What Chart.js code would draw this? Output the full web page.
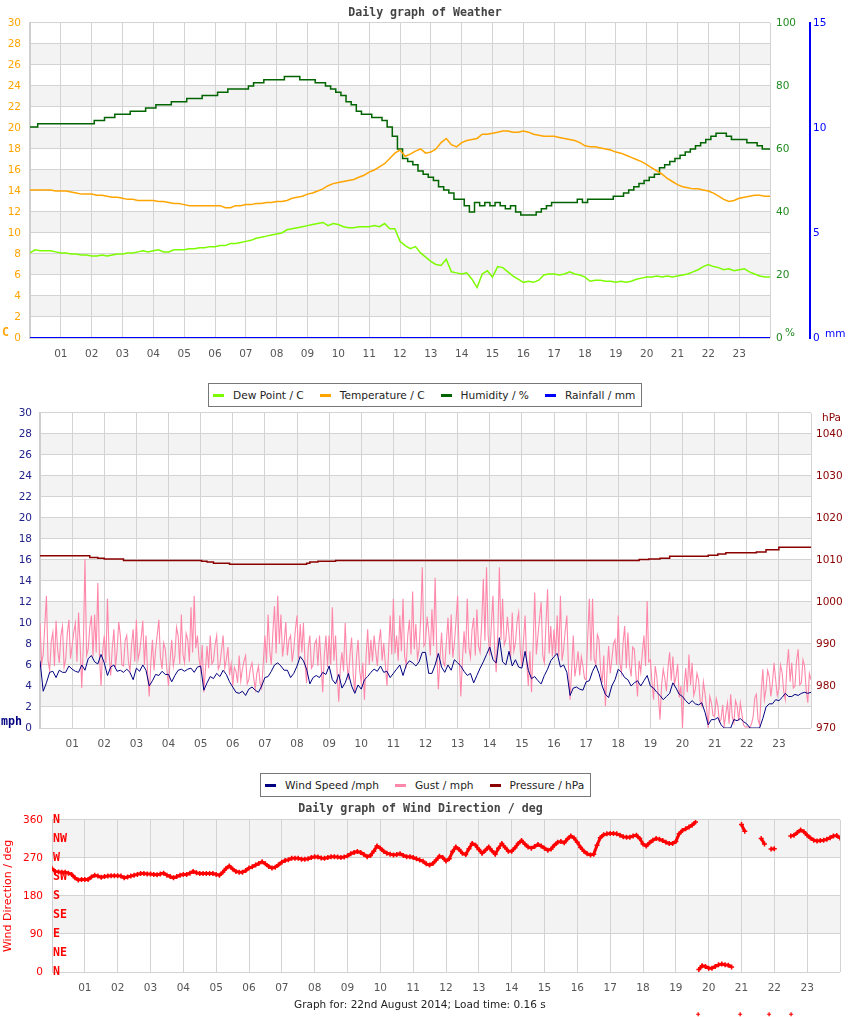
<!DOCTYPE html>
<html>
<head>
<meta charset="utf-8">
<title>Daily graph of Weather</title>
<script src="https://cdn.jsdelivr.net/npm/chart.js@4.4.1/dist/chart.umd.min.js"></script>
<style>
  html, body { margin: 0; padding: 0; background: #fff; }
  body { width: 850px; height: 1017px; position: relative; overflow: hidden; font-family: 'DejaVu Sans', sans-serif; }
  canvas { position: absolute; left: 0; }
  .legend { position: absolute; z-index: 2; background: #fff; border: 1px solid #777; height: 22px;
            padding: 0 6px 0 4px; display: flex; align-items: center; font-size: 10.6px; color: #222; white-space: nowrap; }
  .legend .item { display: flex; align-items: center; margin-right: 16px; }
  .legend .item:last-child { margin-right: 0; }
  .legend .sw { display: inline-block; width: 11px; height: 3px; margin-right: 9px; }
  .footer { position: absolute; left: 294px; top: 997px; font-size: 10.5px; color: #222; line-height: 14px; }
</style>
</head>
<body>
<canvas id="weatherChart" width="850" height="375" style="top:0"></canvas>
<canvas id="windChart" width="850" height="379" style="top:386px"></canvas>
<canvas id="dirChart" width="850" height="221" style="top:796px"></canvas>

<div class="legend" style="left:208px; top:383px">
  <span class="item"><span class="sw" style="background:#7cfc00"></span>Dew Point / C</span>
  <span class="item"><span class="sw" style="background:#ffa500"></span>Temperature / C</span>
  <span class="item"><span class="sw" style="background:#006400"></span>Humidity / %</span>
  <span class="item"><span class="sw" style="background:#0000ff"></span>Rainfall / mm</span>
</div>
<div class="legend" style="left:260px; top:773px">
  <span class="item"><span class="sw" style="background:#000080"></span>Wind Speed /mph</span>
  <span class="item"><span class="sw" style="background:#ff88aa"></span>Gust / mph</span>
  <span class="item"><span class="sw" style="background:#8b0000"></span>Pressure / hPa</span>
</div>
<div class="footer">Graph for: 22nd August 2014; Load time: 0.16 s</div>

<script>
// ---- data ----
const HOUR_LABELS = ['', '01', '02', '03', '04', '05', '06', '07', '08', '09', '10', '11', '12',
  '13', '14', '15', '16', '17', '18', '19', '20', '21', '22', '23', ''];
const COMPASS = ['N', 'NE', 'E', 'SE', 'S', 'SW', 'W', 'NW', 'N'];

// top graph: one sample every 10 minutes, 00:00 .. 24:00
const WEATHER_PER_HOUR = 6;
const TEMP_C = [
  14.1,14.1,14.1,14.1,14.1,14.0,14.0,14.0,13.9,13.8,13.7,13.7,
  13.7,13.6,13.6,13.5,13.4,13.4,13.3,13.2,13.2,13.1,13.1,13.1,
  13.1,13.0,13.0,12.9,12.8,12.8,12.7,12.6,12.6,12.6,12.6,12.6,
  12.6,12.6,12.4,12.4,12.6,12.6,12.7,12.7,12.8,12.8,12.9,12.9,
  13.0,13.0,13.1,13.3,13.4,13.5,13.7,13.8,14.0,14.2,14.5,14.7,
  14.8,14.9,15.0,15.1,15.3,15.5,15.8,16.0,16.3,16.6,17.1,17.6,
  17.9,17.3,17.5,17.8,18.0,17.6,17.7,18.0,18.6,19.0,18.4,18.2,
  18.6,18.8,18.9,19.0,19.4,19.4,19.5,19.6,19.7,19.7,19.6,19.6,
  19.7,19.6,19.4,19.3,19.2,19.2,19.2,19.1,19.0,18.9,18.8,18.6,
  18.3,18.2,18.2,18.1,18.0,17.9,17.7,17.6,17.4,17.2,17.0,16.8,
  16.5,16.2,15.9,15.6,15.2,14.9,14.6,14.4,14.3,14.2,14.2,14.1,
  14.0,13.8,13.5,13.2,13.0,13.1,13.3,13.4,13.5,13.6,13.6,13.5,
  13.5
];
const DEW_C = [
  8.1,8.4,8.3,8.3,8.3,8.2,8.1,8.1,8.0,8.0,7.9,7.9,
  7.8,7.8,7.9,7.8,7.9,8.0,8.0,8.1,8.1,8.2,8.3,8.2,
  8.3,8.4,8.2,8.2,8.4,8.4,8.4,8.5,8.5,8.6,8.6,8.7,
  8.7,8.8,8.8,9.0,9.0,9.1,9.2,9.3,9.5,9.6,9.7,9.8,
  9.9,10.0,10.3,10.4,10.5,10.6,10.7,10.8,10.9,11.0,10.7,10.9,
  10.8,10.6,10.5,10.5,10.6,10.6,10.6,10.7,10.6,10.9,10.4,10.4,
  9.2,8.8,8.5,8.7,8.1,7.7,7.3,7.0,6.9,7.5,6.3,6.2,
  6.1,6.2,5.6,4.8,6.1,6.4,5.8,6.8,6.7,6.3,5.9,5.6,
  5.3,5.4,5.3,5.5,6.0,6.1,6.1,6.0,6.1,6.3,6.1,6.0,
  5.8,5.4,5.5,5.5,5.4,5.4,5.3,5.4,5.3,5.4,5.6,5.7,
  5.8,5.8,5.9,5.8,5.9,5.8,5.9,6.0,6.1,6.3,6.5,6.8,
  7.0,6.8,6.7,6.5,6.6,6.4,6.5,6.6,6.3,6.1,5.9,5.8,
  5.8
];
const HUMIDITY = [
  67,67,68,68,68,68,68,68,68,68,68,68,68,
  69,69,70,70,71,71,71,72,72,72,73,73,
  74,74,74,75,75,75,76,76,76,77,77,77,
  78,78,79,79,79,79,80,81,81,82,82,82,
  82,83,83,83,82,82,82,81,81,80,79,78,
  77,75,74,72,71,71,70,70,69,67,64,60,
  57,56,55,53,52,51,50,48,47,46,44,44,
  42,40,43,42,43,42,43,42,41,42,40,39,
  39,39,40,41,42,43,43,43,43,43,44,43,
  44,44,44,44,44,45,45,46,47,48,49,50,
  51,52,54,55,56,57,58,59,60,61,62,63,
  64,65,65,64,63,63,63,62,62,61,60,60
];
const RAIN_HOURS = [0, 24];
const RAIN_MM = [0, 0];

// middle graph: wind every 6 minutes, gusts every 3 minutes
const WIND_PER_HOUR = 10;
const WIND_MPH = [
  6.4,3.5,4.3,5.3,5.4,4.8,5.5,5.3,5.3,5.9,
  5.6,5.4,5.3,6.0,5.5,6.6,6.9,6.3,6.1,7.0,
  6.2,5.0,5.8,6.0,5.4,5.5,5.3,5.6,5.3,4.6,
  5.7,5.4,6.0,5.5,4.0,4.5,5.1,5.0,5.4,5.1,
  5.1,4.4,5.0,5.5,5.6,5.4,5.6,5.7,5.3,5.8,
  5.9,3.6,4.3,4.9,4.7,5.2,4.9,5.5,5.1,4.4,
  3.9,3.4,3.3,3.5,3.1,3.7,3.9,3.6,3.4,4.0,
  4.8,4.9,5.4,6.0,6.2,5.9,5.5,5.5,4.8,5.2,
  5.9,6.8,6.4,5.6,4.2,4.8,5.0,4.8,5.3,5.1,
  5.9,4.6,4.2,5.1,3.8,4.3,5.2,4.0,3.3,4.1,
  3.7,4.6,4.9,5.3,5.6,5.4,5.9,5.3,5.4,4.8,
  5.2,5.6,6.0,5.0,6.0,6.4,6.2,5.9,6.3,7.2,
  7.2,5.2,5.2,6.0,7.1,5.8,5.3,6.0,5.5,6.5,
  6.2,5.9,5.4,5.0,5.2,4.3,5.0,5.7,6.3,7.0,
  7.7,6.5,6.2,8.6,6.3,6.0,7.3,5.9,6.5,5.8,
  5.7,7.3,5.5,4.7,4.9,4.5,4.2,5.0,5.6,6.4,
  6.8,7.1,5.8,6.0,5.3,3.1,3.8,3.9,3.7,3.6,
  4.4,4.5,5.4,6.0,5.2,4.0,3.2,2.9,4.0,4.6,
  5.6,5.3,4.8,4.6,4.0,4.3,4.5,4.0,4.5,5.0,
  4.0,3.8,3.4,3.1,2.7,3.0,3.3,4.3,3.8,3.2,
  3.0,2.6,2.3,2.6,2.3,2.2,2.4,1.5,0.3,0.8,
  0.8,1.0,0.3,0.0,0.0,0.0,0.8,0.7,0.9,0.6,
  0.4,0.0,0.0,0.0,0.0,0.9,2.0,2.3,2.3,2.7,
  2.6,2.9,3.3,3.0,3.0,3.2,3.1,3.3,3.4,3.3,
  3.4
];
const GUST_PER_HOUR = 20;
const GUST_MPH = [
  10.0,6.1,7.0,9.8,12.6,6.4,5.5,8.2,9.1,5.9,10.2,7.4,6.2,8.8,9.7,5.8,6.5,9.0,10.3,6.6,
  7.8,9.1,10.0,6.3,11.0,7.9,3.8,8.0,16.1,6.9,7.5,9.6,10.7,6.8,10.8,7.2,13.8,7.0,4.0,7.3,
  8.8,6.2,12.3,7.1,5.0,7.6,9.4,5.8,7.4,10.1,8.8,6.0,5.9,8.3,8.8,6.4,5.4,7.9,9.4,6.3,
  10.3,6.5,7.2,8.6,10.2,6.0,8.8,5.2,3.0,6.2,8.4,5.5,7.5,8.9,10.3,6.7,5.6,8.1,7.5,5.6,
  4.0,6.4,8.4,5.9,6.9,9.6,8.8,6.1,10.8,7.0,6.2,9.0,8.4,6.3,11.5,7.2,12.6,7.6,8.8,6.6,
  5.6,7.9,3.4,5.6,7.8,5.7,8.8,6.1,6.4,7.9,8.8,5.6,6.0,7.4,8.8,5.7,6.5,7.7,5.0,6.1,
  4.0,5.8,5.4,4.3,6.9,4.5,5.6,6.4,6.9,4.2,4.6,5.7,6.2,4.8,3.7,5.2,5.9,4.3,3.8,6.2,
  8.8,6.2,10.8,7.4,6.0,9.2,11.6,7.1,12.6,8.0,10.8,6.8,8.1,10.1,6.9,8.4,8.8,6.3,7.5,9.4,
  10.7,6.6,9.9,7.2,10.0,6.1,4.3,7.6,8.8,5.7,6.0,8.0,8.4,5.9,8.8,6.2,3.4,6.9,8.8,5.8,
  8.8,6.0,11.5,6.4,8.8,5.2,2.5,5.8,7.2,5.4,10.0,6.3,4.6,7.0,8.6,5.1,3.4,6.6,8.4,5.5,
  4.3,6.2,2.7,6.8,9.4,6.0,8.4,6.3,8.8,7.3,5.9,8.1,9.4,6.4,8.1,6.1,4.0,7.2,10.7,7.0,
  12.3,7.1,8.8,6.4,10.7,7.3,12.3,6.8,6.0,8.9,10.3,7.0,13.0,7.5,9.9,6.6,7.5,10.4,15.3,7.8,
  8.1,10.6,9.2,6.9,11.3,7.8,14.3,7.4,3.7,6.6,9.1,6.3,5.9,8.2,10.5,7.0,10.8,6.7,8.1,10.2,
  12.6,6.8,3.0,6.5,9.2,7.1,12.3,7.7,6.7,9.4,10.5,6.9,11.3,7.8,7.2,10.0,14.2,8.3,15.3,8.8,
  6.9,9.8,12.6,7.6,5.3,8.9,15.3,8.4,12.3,7.9,8.4,10.6,8.8,6.7,11.0,7.3,8.1,10.1,11.0,7.4,
  5.9,8.3,10.7,6.2,4.0,7.3,3.4,7.8,12.9,7.0,8.8,10.4,12.0,6.9,6.2,9.9,13.2,7.1,9.7,6.8,
  9.4,7.0,10.7,6.8,12.6,6.4,7.5,9.3,10.7,5.8,2.7,5.6,8.8,4.9,6.0,7.3,5.0,6.8,5.9,4.7,
  4.6,8.6,12.3,6.4,12.3,6.6,6.0,8.9,8.4,5.5,4.3,6.9,2.1,5.3,7.8,5.2,6.5,8.0,8.4,6.0,
  10.7,6.2,5.3,8.1,9.7,5.7,9.1,6.0,4.9,7.7,7.5,5.1,3.0,6.4,5.3,7.2,8.8,5.9,12.1,6.3,
  6.5,4.4,2.7,5.9,4.9,3.0,0.8,4.1,5.6,4.7,3.5,5.8,7.2,4.5,6.8,4.2,4.9,6.1,2.9,4.0,
  0.0,3.9,5.7,3.4,7.0,4.1,6.2,3.1,3.7,5.2,4.6,2.6,2.1,4.4,3.3,1.9,0.0,3.0,2.4,1.2,
  1.1,2.8,2.1,0.6,0.8,2.2,0.2,1.4,2.4,0.4,3.2,1.0,0.5,2.6,2.1,0.7,2.4,1.3,0.3,0.1,
  0.1,0.1,0.1,0.4,1.1,2.9,3.2,0.8,0.3,3.4,5.6,2.7,3.7,5.5,4.9,3.0,4.3,6.2,4.6,3.1,
  3.7,6.0,5.3,3.5,2.7,5.8,7.5,4.4,6.2,3.8,4.0,6.4,7.5,4.1,4.3,6.5,5.9,3.6,2.4,5.2,
  4.6
];
const PRESSURE_HOURS = [0, 1.55, 1.8, 2.0, 2.6, 5.03, 5.2, 5.4, 5.9, 8.3, 8.4, 8.65, 9.2,
  18.65, 18.95, 19.3, 19.6, 20.8, 21.1, 21.35, 22.3, 22.6, 23.0, 24];
const PRESSURE_HPA = [1011.0, 1010.6, 1010.4, 1010.2, 1009.9, 1009.7, 1009.5, 1009.2, 1009.0, 1009.2, 1009.5, 1009.7, 1009.9,
  1010.1, 1010.2, 1010.4, 1010.9, 1011.1, 1011.4, 1011.7, 1011.9, 1012.4, 1013.0, 1013.0];

// bottom graph: wind direction, one sample every 6 minutes (null = no reading)
const DIR_PER_HOUR = 10;
const DIRECTION_DEG = [
  245,238,237,236,236,234,231,223,218,219,
  219,219,225,229,227,224,226,227,228,228,
  228,227,223,225,227,229,231,233,233,232,
  232,231,230,232,234,229,226,223,226,229,
  231,231,234,238,235,233,233,233,233,233,
  231,229,236,245,251,244,238,236,236,240,
  246,249,253,257,261,256,250,246,248,254,
  260,264,266,269,269,269,267,267,268,271,
  273,272,270,269,271,273,273,272,271,272,
  275,280,283,285,283,278,273,276,286,298,
  293,286,281,279,277,278,280,276,273,273,
  271,268,265,262,256,253,257,265,274,271,
  263,268,285,296,290,281,278,292,304,300,
  290,281,288,296,287,279,293,304,295,286,
  286,294,304,311,303,296,293,297,302,298,
  293,288,291,300,307,309,306,315,322,317,
  307,295,286,280,277,279,300,318,325,327,
  328,328,327,324,320,319,319,322,324,316,
  303,298,306,312,316,314,311,307,304,304,
  309,327,335,339,343,348,355,6,15,13,
  9,9,13,17,19,17,16,12,null,null,
  349,333,null,null,null,null,316,303,null,291,
  292,null,null,null,null,322,324,330,336,332,
  324,317,312,310,311,312,314,318,322,323,
  317
];
// readings logged below the scale (calm periods)
const DIR_MISSING_HOURS = [19.68, 20.96, 21.84, 22.51];
const DIR_MISSING_DEG = [-100, -100, -100, -100];

// ---- helpers ----
const GRID = '#d3d3d3';
const BAND = '#f3f3f3';
const TITLE_FONT = { family: "'DejaVu Sans Mono', monospace", size: 11.6, weight: 'bold' };
const MONO_BOLD = "bold 11.6px 'DejaVu Sans Mono', monospace";
const SANS = "10.5px 'DejaVu Sans', sans-serif";

Chart.defaults.font.family = "'DejaVu Sans', sans-serif";
Chart.defaults.font.size = 10.5;
Chart.defaults.animation = false;
Chart.defaults.events = [];
Chart.defaults.plugins.legend.display = false;
Chart.defaults.plugins.tooltip.enabled = false;
Chart.defaults.elements.point.radius = 0;

function series(values, perHour) {
  return values.map((v, i) => ({ x: i / perHour, y: v }));
}
function pairs(hours, values) {
  return hours.map((h, i) => ({ x: h, y: values[i] }));
}
function everyOther(min, max, step) {
  const out = [];
  for (let v = min + step; v < max; v += 2 * step) out.push([v, v + step]);
  return out;
}

// light grey bands behind the grid
const bandPlugin = {
  id: 'bands',
  beforeDraw(chart, args, opts) {
    const { ctx, chartArea: a } = chart;
    const s = chart.scales[opts.scale];
    ctx.save();
    ctx.fillStyle = BAND;
    opts.ranges.forEach(([lo, hi]) => {
      const top = s.getPixelForValue(hi);
      const bottom = s.getPixelForValue(lo);
      ctx.fillRect(a.left, top, a.right - a.left, bottom - top);
    });
    ctx.restore();
  }
};

// unit captions beside the axes (C, %, mm, mph, hPa)
const unitPlugin = {
  id: 'units',
  afterDraw(chart, args, opts) {
    const ctx = chart.ctx;
    (opts.items || []).forEach(it => {
      ctx.save();
      ctx.font = it.font;
      ctx.fillStyle = it.color;
      ctx.textAlign = 'left';
      ctx.textBaseline = 'middle';
      ctx.fillText(it.text, it.x, it.y);
      ctx.restore();
    });
  }
};

// Chart.js skips points outside the chart area, so the off-scale readings
// are placed with the chart's own scales and drawn as small crosses here
const offScalePlugin = {
  id: 'offScale',
  afterDatasetsDraw(chart, args, opts) {
    const { ctx, scales } = chart;
    ctx.save();
    ctx.strokeStyle = opts.color;
    ctx.lineWidth = 1.2;
    opts.hours.forEach((h, i) => {
      const px = scales.x.getPixelForValue(h);
      const py = scales.y.getPixelForValue(opts.values[i]);
      ctx.beginPath();
      ctx.moveTo(px - 2, py); ctx.lineTo(px + 2, py);
      ctx.moveTo(px, py - 2); ctx.lineTo(px, py + 2);
      ctx.stroke();
    });
    ctx.restore();
  }
};

function hourAxis(height) {
  return {
    type: 'linear', min: 0, max: 24,
    ticks: { stepSize: 1, autoSkip: false, maxRotation: 0, padding: 10, color: '#555',
      callback: v => HOUR_LABELS[v] },
    grid: { color: GRID, drawTicks: false },
    border: { display: false },
    afterFit: axis => { axis.height = height; }
  };
}

// ============================================================
// Weather: temperature, dew point, humidity, rainfall
// ============================================================
new Chart(document.getElementById('weatherChart'), {
  type: 'line',
  data: {
    datasets: [
      { label: 'Dew Point / C', data: series(DEW_C, WEATHER_PER_HOUR), yAxisID: 'y',
        borderColor: '#7cfc00', borderWidth: 1.5 },
      { label: 'Temperature / C', data: series(TEMP_C, WEATHER_PER_HOUR), yAxisID: 'y',
        borderColor: '#ffa500', borderWidth: 1.5 },
      { label: 'Humidity / %', data: series(HUMIDITY, WEATHER_PER_HOUR), yAxisID: 'yHum',
        borderColor: '#006400', borderWidth: 1.5, stepped: 'middle' },
      { label: 'Rainfall / mm', data: pairs(RAIN_HOURS, RAIN_MM), yAxisID: 'yRain',
        borderColor: '#0000ff', borderWidth: 2 }
    ]
  },
  options: {
    responsive: false,
    layout: { padding: 0 },
    scales: {
      x: hourAxis(37),
      y: {
        position: 'left', min: 0, max: 30,
        ticks: { stepSize: 2, color: '#ffa500', padding: 9 },
        grid: { color: GRID, drawTicks: false },
        border: { color: '#cfcfcf', width: 2 },
        afterFit: axis => { axis.width = 30; }
      },
      yHum: {
        position: 'right', min: 0, max: 100,
        ticks: { stepSize: 20, color: '#228b22', padding: 6 },
        grid: { display: false, drawTicks: false },
        border: { display: false },
        afterFit: axis => { axis.width = 40; }
      },
      yRain: {
        position: 'right', min: 0, max: 15,
        ticks: { stepSize: 5, color: '#0000ff', padding: 3 },
        grid: { display: false, drawTicks: false },
        border: { display: true, color: '#0000ff', width: 2 },
        afterFit: axis => { axis.width = 40; }
      }
    },
    plugins: {
      title: { display: true, text: 'Daily graph of Weather', color: '#444', font: TITLE_FONT,
        padding: { top: 6, bottom: 3 } },
      bands: { scale: 'y', ranges: everyOther(0, 30, 2) },
      units: { items: [
        { text: 'C', x: 2, y: 333, color: '#ffa500', font: MONO_BOLD },
        { text: '%', x: 785, y: 333, color: '#228b22', font: SANS },
        { text: 'mm', x: 825, y: 334, color: '#0000ff', font: SANS }
      ] }
    }
  },
  plugins: [bandPlugin, unitPlugin]
});

// ============================================================
// Wind speed, gust and pressure
// ============================================================
new Chart(document.getElementById('windChart'), {
  type: 'line',
  data: {
    datasets: [
      { label: 'Wind Speed /mph', data: series(WIND_MPH, WIND_PER_HOUR), yAxisID: 'y',
        borderColor: '#000080', borderWidth: 1 },
      { label: 'Gust / mph', data: series(GUST_MPH, GUST_PER_HOUR), yAxisID: 'y',
        borderColor: '#ff88aa', borderWidth: 1.1 },
      { label: 'Pressure / hPa', data: pairs(PRESSURE_HOURS, PRESSURE_HPA), yAxisID: 'yPress',
        borderColor: '#8b0000', borderWidth: 1.5, stepped: true }
    ]
  },
  options: {
    responsive: false,
    layout: { padding: 0 },
    scales: {
      x: hourAxis(37),
      y: {
        position: 'left', min: 0, max: 30,
        ticks: { stepSize: 2, color: '#22228b', padding: 8 },
        grid: { color: GRID, drawTicks: false },
        border: { color: '#cfcfcf', width: 2 },
        afterFit: axis => { axis.width = 40; }
      },
      yPress: {
        position: 'right', min: 970, max: 1045,
        ticks: { stepSize: 10, includeBounds: false, color: '#8b0000', padding: 5,
          callback: v => String(v) },
        grid: { display: false, drawTicks: false },
        border: { display: false },
        afterFit: axis => { axis.width = 39; }
      }
    },
    plugins: {
      title: { display: true, text: 'Daily graph of Weather', color: '#444', font: TITLE_FONT,
        padding: { top: 6, bottom: 7 } },
      bands: { scale: 'y', ranges: everyOther(0, 30, 2) },
      units: { items: [
        { text: 'mph', x: 1, y: 336, color: '#000080', font: MONO_BOLD },
        { text: 'hPa', x: 822, y: 32, color: '#8b0000', font: SANS }
      ] }
    }
  },
  plugins: [bandPlugin, unitPlugin]
});

// ============================================================
// Wind direction
// ============================================================
new Chart(document.getElementById('dirChart'), {
  type: 'line',
  data: {
    datasets: [
      { label: 'Wind Direction / deg', data: series(DIRECTION_DEG, DIR_PER_HOUR), yAxisID: 'y',
        borderColor: '#ff0000', borderWidth: 3,
        pointRadius: 2.5, pointStyle: 'cross', pointBorderColor: '#ff0000', pointBorderWidth: 1.5,
        segment: { borderColor: c => Math.abs(c.p1.parsed.y - c.p0.parsed.y) > 180 ? 'transparent' : undefined } }
    ]
  },
  options: {
    responsive: false,
    layout: { padding: { right: 9 } },
    scales: {
      x: hourAxis(45),
      y: {
        position: 'left', weight: 1, min: 0, max: 360,
        ticks: { stepSize: 90, color: '#ff0000', padding: 9 },
        title: { display: true, text: 'Wind Direction / deg', color: '#ff0000', font: { size: 11 },
          padding: { top: 2, bottom: 0 } },
        grid: { color: GRID, drawTicks: false },
        border: { color: '#cfcfcf', width: 1 },
        afterFit: axis => { axis.width = 52; }
      },
      yCompass: {
        position: 'left', weight: 0, min: 0, max: 360,
        ticks: { stepSize: 45, mirror: true, padding: 1, color: '#ff0000',
          font: { family: "'DejaVu Sans Mono', monospace", size: 11.6, weight: 'bold' },
          callback: v => COMPASS[v / 45] },
        grid: { display: false, drawTicks: false },
        border: { display: false },
        afterFit: axis => { axis.width = 0; }
      }
    },
    plugins: {
      title: { display: true, text: 'Daily graph of Wind Direction / deg', color: '#444', font: TITLE_FONT,
        padding: { top: 6, bottom: 4 } },
      bands: { scale: 'y', ranges: [[90, 180], [270, 360]] },
      offScale: { color: '#ff0000', hours: DIR_MISSING_HOURS, values: DIR_MISSING_DEG }
    }
  },
  plugins: [bandPlugin, offScalePlugin]
});
</script>
</body>
</html>
